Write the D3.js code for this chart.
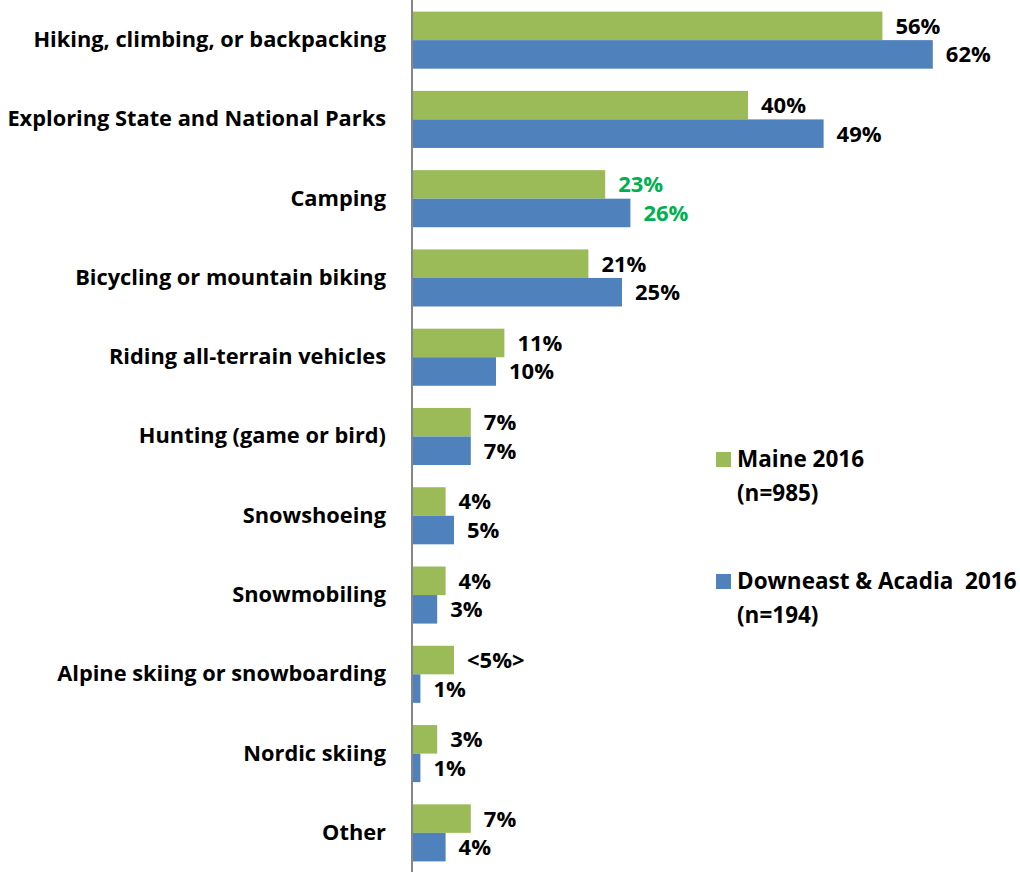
<!DOCTYPE html>
<html>
<head>
<meta charset="utf-8">
<script src="https://cdn.jsdelivr.net/npm/d3@7"></script>
<style>
  html, body { margin: 0; padding: 0; background: #fff; }
  svg text { font-family: "Open Sans", sans-serif; font-weight: 700; }
</style>
</head>
<body>
<svg id="chart" width="1020" height="872"></svg>
<script>
// Outdoor activities, share of respondents (%)
const categories = [
  "Hiking, climbing, or backpacking",
  "Exploring State and National Parks",
  "Camping",
  "Bicycling or mountain biking",
  "Riding all-terrain vehicles",
  "Hunting (game or bird)",
  "Snowshoeing",
  "Snowmobiling",
  "Alpine skiing or snowboarding",
  "Nordic skiing",
  "Other"
];
const maine2016 = [56, 40, 23, 21, 11, 7, 4, 4, 5, 3, 7];
const downeast2016 = [62, 49, 26, 25, 10, 7, 5, 3, 1, 1, 4];
const maineLabels = ["56%", "40%", "23%", "21%", "11%", "7%", "4%", "4%", "<5%>", "3%", "7%"];
const downeastLabels = ["62%", "49%", "26%", "25%", "10%", "7%", "5%", "3%", "1%", "1%", "4%"];
const highlighted = ["Camping"];
const seriesNames = ["Maine 2016", "Downeast & Acadia  2016"];
const seriesN = ["(n=985)", "(n=194)"];

const green = "#9BBB59", blue = "#4F81BD", highlightColor = "#00B050";
const font = "'Open Sans', sans-serif";

const svg = d3.select("#chart");

const x = d3.scaleLinear().domain([0, 70]).range([412, 1000]);
const y = d3.scaleBand().domain(categories).range([0.5, 872.5])
  .paddingInner(0.28).paddingOuter(0.14);
const barH = y.bandwidth() / 2;

const rows = categories.map((c, i) => ({
  cat: c, m: maine2016[i], d: downeast2016[i], ml: maineLabels[i], dl: downeastLabels[i]
}));

// bars
const g = svg.append("g");
g.selectAll("rect.maine").data(rows).join("rect")
  .attr("x", x(0)).attr("y", r => y(r.cat))
  .attr("width", r => x(r.m) - x(0)).attr("height", barH)
  .attr("fill", green);
g.selectAll("rect.down").data(rows).join("rect")
  .attr("x", x(0)).attr("y", r => y(r.cat) + barH)
  .attr("width", r => x(r.d) - x(0)).attr("height", barH)
  .attr("fill", blue);

// value labels
const labFill = r => highlighted.includes(r.cat) ? highlightColor : "#000";
g.selectAll("text.ml").data(rows).join("text")
  .attr("x", r => x(r.m) + 13).attr("y", r => y(r.cat) + barH / 2)
  .attr("dy", "0.36em").attr("font-size", 22).attr("fill", labFill)
  .text(r => r.ml);
g.selectAll("text.dl").data(rows).join("text")
  .attr("x", r => x(r.d) + 13).attr("y", r => y(r.cat) + barH * 1.5)
  .attr("dy", "0.36em").attr("font-size", 22).attr("fill", labFill)
  .text(r => r.dl);

// category axis
const axis = svg.append("g").attr("transform", `translate(${x(0)},0)`)
  .call(d3.axisLeft(y).tickSize(0).tickPadding(26));
axis.select(".domain").attr("stroke", "#868686").attr("stroke-width", 2)
  .attr("d", "M0,0V872");
axis.selectAll(".tick text").attr("font-size", 21.8).attr("fill", "#000")
  .attr("font-family", font).attr("font-weight", 700);

// legend
const legend = svg.append("g");
const legendY = [459, 581];
[green, blue].forEach((col, i) => {
  const lg = legend.append("g").attr("transform", `translate(716,${legendY[i]})`);
  lg.append("rect").attr("x", 0).attr("y", -7).attr("width", 15).attr("height", 15).attr("fill", col);
  lg.append("text").attr("x", 21).attr("y", 0).attr("dy", "0.36em")
    .attr("font-size", 22.5).text(seriesNames[i]).style("white-space", "pre");
  lg.append("text").attr("x", 21).attr("y", 34).attr("dy", "0.36em")
    .attr("font-size", 22.5).text(seriesN[i]);
});
</script>
</body>
</html>
